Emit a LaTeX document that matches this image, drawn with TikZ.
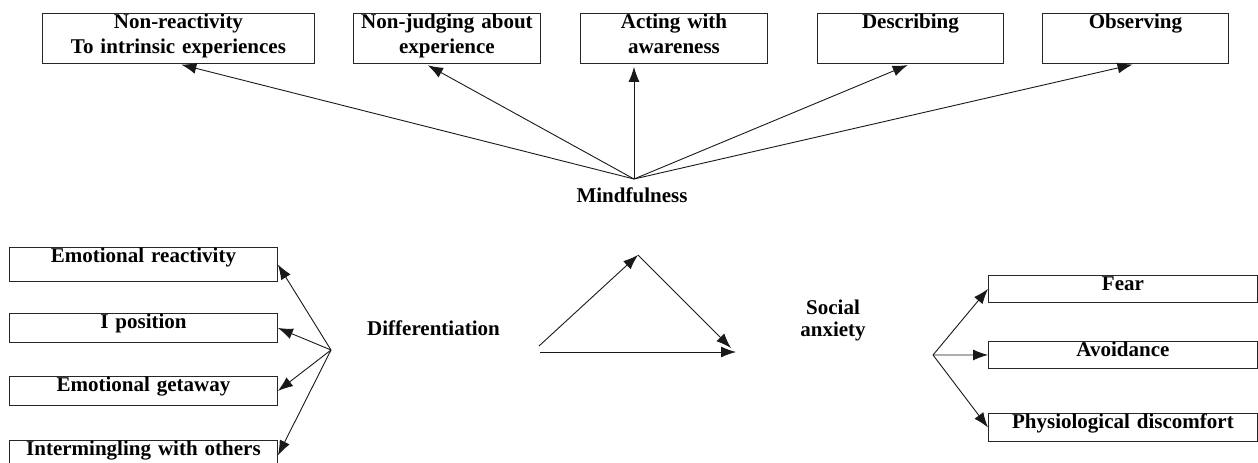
\documentclass[tikz,border=0pt]{standalone}
\usepackage{fontspec}
\setmainfont{Liberation Serif}
\usetikzlibrary{arrows.meta, calc}

\begin{document}
\begin{tikzpicture}[
    x=1pt, y=-1pt,
    line width=0.9pt,
    box/.style={rectangle, draw=black!85, anchor=north west, inner xsep=0pt, inner ysep=1pt, align=center, text height=14.5pt, font=\fontsize{21}{25}\selectfont\bfseries},
    lbl/.style={align=center, inner sep=0pt, anchor=base, font=\fontsize{21}{22}\selectfont\bfseries},
    arr/.style={-{Latex[length=15pt, width=11pt]}, draw=black!90, line width=0.9pt}
]
\useasboundingbox (0,0) rectangle (1258,463);

% Mindfulness facets
\node[box, text width=272pt, text depth=33.5pt] (nonreact) at (42,13) {Non-reactivity\\To intrinsic experiences};
\node[box, text width=187pt, text depth=33.5pt] (nonjudge) at (353,13) {Non-judging about\\experience};
\node[box, text width=187pt, text depth=33.5pt] (acting) at (580,13) {Acting with\\awareness};
\node[box, text width=186pt, text depth=33.5pt] (describe) at (817,13) {Describing};
\node[box, text width=186pt, text depth=33.5pt] (observe) at (1042,13) {Observing};

\coordinate (mhub) at (634,179);
\node[lbl] (mindful) at (632,202) {Mindfulness};

\draw[arr, shorten >=3pt] (mhub) -- (nonreact.south);
\draw[arr, shorten >=3pt] (mhub) -- ($(nonjudge.south west)!.385!(nonjudge.south east)$);
\draw[arr, shorten >=3pt] (mhub) -- (acting.south -| mhub);
\draw[arr, shorten >=3pt] (mhub) -- (describe.south);
\draw[arr, shorten >=3pt] (mhub) -- (observe.south);

% Differentiation
\node[box, text width=268pt, text depth=17.5pt] (emoreact) at (9,247) {Emotional reactivity};
\node[box, text width=268pt, text depth=12.5pt] (ipos) at (9,313) {I position};
\node[box, text width=268pt, text depth=12.5pt] (getaway) at (9,376) {Emotional getaway};
\node[box, text width=268pt, text depth=13.5pt] (mingle) at (9,440) {Intermingling with others};

\coordinate (dhub) at (331,350);
\node[lbl] (diff) at (433.5,335) {Differentiation};

\foreach \b in {emoreact,ipos,getaway,mingle}
    \draw[arr] (dhub) -- (\b.east);

% mediation triangle
\coordinate (tri1) at (539,346);
\coordinate (apex) at (638,255);
\coordinate (tri2) at (731,348);
\coordinate (base1) at (540,352);
\coordinate (base2) at (736,352);

\draw[arr] (tri1) -- (apex);
\draw[arr] (apex) -- (tri2);
\draw[arr] (base1) -- (base2);

% Social anxiety
\node[lbl] (social) at (833,336) {Social\\anxiety};
\coordinate (ahub) at (933,355);

\node[box, text width=269pt, text depth=10.5pt] (fear) at (988,275) {Fear};
\node[box, text width=269pt, text depth=10.5pt] (avoid) at (988,341) {Avoidance};
\node[box, text width=269pt, text depth=11.5pt] (physio) at (988,413) {Physiological discomfort};

\foreach \b in {fear,avoid,physio}
    \draw[arr] (ahub) -- (\b.west);

\end{tikzpicture}
\end{document}
